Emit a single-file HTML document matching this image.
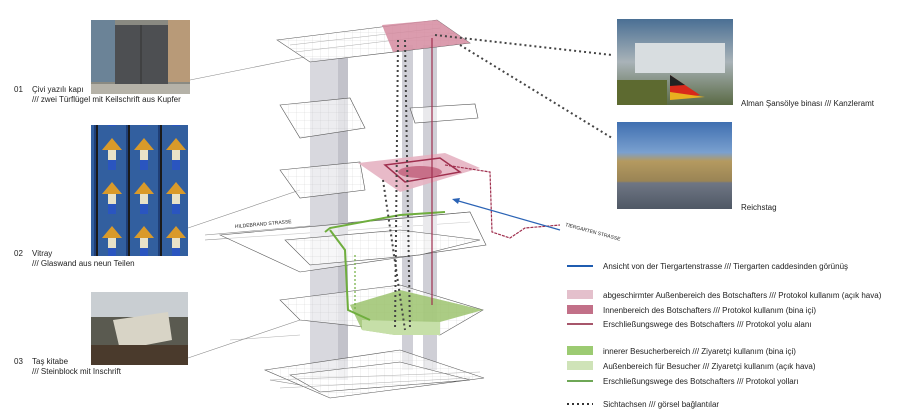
<!DOCTYPE html>
<html><head><meta charset="utf-8"><style>
html,body{margin:0;padding:0;background:#fff;width:900px;height:416px;overflow:hidden}
svg{display:block}
text{font-family:"Liberation Sans","Noto Sans CJK JP",sans-serif;fill:#222}
</style></head><body>
<svg width="900" height="416" viewBox="0 0 900 416" xmlns="http://www.w3.org/2000/svg">
<defs>
<linearGradient id="sky" x1="0" y1="0" x2="0" y2="1"><stop offset="0" stop-color="#4a6f94"/><stop offset="0.5" stop-color="#a9b3b8"/><stop offset="1" stop-color="#5a6a45"/></linearGradient>
<linearGradient id="sky2" x1="0" y1="0" x2="0" y2="1"><stop offset="0" stop-color="#3f6fb0"/><stop offset="0.35" stop-color="#7aa0cf"/><stop offset="0.45" stop-color="#b49a60"/><stop offset="0.68" stop-color="#9a8455"/><stop offset="0.7" stop-color="#6f7684"/><stop offset="1" stop-color="#4f5865"/></linearGradient>
<pattern id="glass" width="32" height="44" patternUnits="userSpaceOnUse"><rect width="32" height="44" fill="#1f3f78"/><rect x="2" y="0" width="28" height="44" fill="#3a6cb0" opacity="0.7"/><path d="M6,18 L16,6 L26,18 Z" fill="#d99a2a"/><rect x="12" y="18" width="8" height="10" fill="#e8e2c8"/><rect x="12" y="28" width="8" height="10" fill="#2a55c0"/><rect x="0" y="0" width="2" height="44" fill="#1a1a1a"/></pattern>
<pattern id="grid" width="8" height="8" patternUnits="userSpaceOnUse"><path d="M8,0 L0,0 0,8" fill="none" stroke="#bbb" stroke-width="0.4"/></pattern>
</defs>

<rect x="91" y="20" width="99" height="74" fill="#8a8a82"/>
<rect x="91" y="20" width="24" height="62" fill="#6b8397"/>
<rect x="168" y="20" width="22" height="62" fill="#b89a78"/>
<rect x="115" y="25" width="53" height="60" fill="#4d4f52"/>
<line x1="141" y1="25" x2="141" y2="85" stroke="#333"/>
<rect x="91" y="84" width="99" height="10" fill="#b5b2a8"/>
<rect x="91" y="125" width="97" height="131" fill="url(#glass)"/>
<rect x="91" y="292" width="97" height="73" fill="#5a5a50"/>
<rect x="91" y="292" width="97" height="25" fill="#c9ced2"/>
<polygon points="113,320 168,312 172,340 120,350" fill="#d8d4c6"/>
<rect x="91" y="345" width="97" height="20" fill="#4a3a2c"/>

<text font-size="8" x="14" y="92">01</text><text font-size="8" x="32" y="92">Çivi yazılı kapı</text>
<text font-size="8" x="32" y="102">/// zwei Türflügel mit Keilschrift aus Kupfer</text>
<text font-size="8" x="14" y="256">02</text><text font-size="8" x="32" y="256">Vitray</text>
<text font-size="8" x="32" y="266">/// Glaswand aus neun Teilen</text>
<text font-size="8" x="14" y="364">03</text><text font-size="8" x="32" y="364">Taş kitabe</text>
<text font-size="8" x="32" y="374">/// Steinblock mit Inschrift</text>

<g stroke="#888" stroke-width="0.6" fill="none">
<line x1="190" y1="80" x2="305" y2="57"/>
<line x1="188" y1="228" x2="300" y2="190"/>
<line x1="188" y1="358" x2="300" y2="320"/>
<line x1="205" y1="235" x2="470" y2="212"/>
<line x1="205" y1="240" x2="470" y2="222"/>
<line x1="270" y1="380" x2="300" y2="385"/>
</g>

<rect x="617" y="19" width="116" height="86" fill="url(#sky)"/>
<rect x="635" y="43" width="90" height="30" fill="#d8dde0"/>
<rect x="617" y="80" width="50" height="25" fill="#5d6a30"/>
<polygon points="670,75 700,95 670,100" fill="#d8291b"/>
<polygon points="670,75 685,85 670,86" fill="#222"/>
<polygon points="670,92 705,97 670,100" fill="#e8b020"/>
<rect x="617" y="122" width="115" height="87" fill="url(#sky2)"/>
<text font-size="8" x="741" y="106">Alman Şansölye binası /// Kanzleramt</text>
<text font-size="8" x="741" y="210">Reichstag</text>

<rect x="310" y="58" width="38" height="322" fill="#d4d4da" opacity="0.9"/>
<rect x="338" y="58" width="10" height="322" fill="#c2c2ca"/>
<rect x="402" y="45" width="11" height="325" fill="#cfcfd6"/>
<rect x="423" y="45" width="14" height="325" fill="#cfcfd6"/>

<g stroke="#555" stroke-width="0.6" fill="rgba(255,255,255,0.55)">
<polygon points="277,40 437,20 470,43 310,62"/>
<polygon points="280,105 350,98 365,128 300,138"/>
<polygon points="410,108 475,104 478,118 415,123"/>
<polygon points="280,170 360,162 365,190 300,198"/>
<polygon points="220,235 470,212 486,245 300,272"/>
<polygon points="285,240 400,230 480,240 420,255 310,265"/>
<polygon points="280,300 400,285 483,310 440,335 300,320"/>
<polygon points="265,370 400,350 484,378 330,398"/>
<polygon points="290,375 400,362 470,380 320,392"/>
</g>
<g fill="url(#grid)" opacity="0.8">
<polygon points="277,40 437,20 470,43 310,62"/>
<polygon points="280,105 350,98 365,128 300,138"/>
<polygon points="280,170 360,162 365,190 300,198"/>
<polygon points="285,240 400,230 480,240 420,255 310,265"/>
<polygon points="280,300 400,285 483,310 440,335 300,320"/>
<polygon points="265,370 400,350 484,378 330,398"/>
</g>
<g stroke="#999" stroke-width="0.4" fill="none">
<line x1="290" y1="45" x2="440" y2="28"/><line x1="295" y1="52" x2="455" y2="33"/>
<line x1="270" y1="380" x2="480" y2="372"/><line x1="280" y1="388" x2="470" y2="378"/>
<line x1="230" y1="340" x2="300" y2="335"/>
</g>

<polygon points="382,25 437,20 470,43 393,52" fill="#d58ba0" opacity="0.85"/>
<polygon points="358,163 445,153 480,168 400,192" fill="#e6b3c2" opacity="0.9"/>
<polygon points="385,165 440,158 460,172 405,182" fill="none" stroke="#a0304f" stroke-width="1.5"/>
<ellipse cx="420" cy="172" rx="22" ry="6" fill="#c76f88"/>
<polygon points="350,305 400,290 483,310 440,322 440,335 395,335 362,330" fill="#9cc36f" opacity="0.85"/>
<polygon points="362,320 440,322 440,335 395,335 362,330" fill="#c6dfa8"/>
<polyline points="325,232 330,228 400,215 445,212" fill="none" stroke="#6fae3e" stroke-width="2"/>
<polyline points="330,230 345,250 348,310 370,320" fill="none" stroke="#6fae3e" stroke-width="2"/>
<line x1="355" y1="255" x2="355" y2="310" stroke="#6fae3e" stroke-width="1.2" stroke-dasharray="2,2"/>

<line x1="432" y1="38" x2="432" y2="305" stroke="#a0304f" stroke-width="1.2"/>
<polyline points="445,165 490,172 492,232 510,238 525,228 560,225" fill="none" stroke="#a0304f" stroke-width="1.2" stroke-dasharray="3,1"/>

<line x1="455" y1="200" x2="560" y2="230" stroke="#2b63b5" stroke-width="1.2"/>
<polygon points="452,199 460,198 458,204" fill="#2b63b5"/>

<g stroke="#444" stroke-width="2" stroke-dasharray="2,3" fill="none">
<line x1="435" y1="35" x2="612" y2="55"/>
<line x1="460" y1="45" x2="612" y2="138"/>
<line x1="405" y1="40" x2="410" y2="330"/>
<line x1="398" y1="40" x2="395" y2="330"/>
<line x1="383" y1="180" x2="405" y2="330"/>
</g>

<text font-size="5" x="235" y="228" transform="rotate(-5 235 228)">HILDEBRAND STRASSE</text>
<text font-size="5" x="565" y="226" transform="rotate(15 565 226)">TIERGARTEN STRASSE</text>

<line x1="567" y1="266" x2="593" y2="266" stroke="#1f5cb0" stroke-width="2"/>
<text font-size="8" x="603" y="269">Ansicht von der Tiergartenstrasse /// Tiergarten caddesinden görünüş</text>
<rect x="567" y="290" width="26" height="9" fill="#e4c0cc"/>
<text font-size="8" x="603" y="298">abgeschirmter Außenbereich des Botschafters /// Protokol kullanım (açık hava)</text>
<rect x="567" y="305" width="26" height="9" fill="#c27088"/>
<text font-size="8" x="603" y="313">Innenbereich des Botschafters /// Protokol kullanım (bina içi)</text>
<line x1="567" y1="324" x2="593" y2="324" stroke="#8a1f3a" stroke-width="1.5"/>
<text font-size="8" x="603" y="327">Erschließungswege des Botschafters /// Protokol yolu alanı</text>
<rect x="567" y="346" width="26" height="9" fill="#9ccb72"/>
<text font-size="8" x="603" y="354">innerer Besucherbereich /// Ziyaretçi kullanım (bina içi)</text>
<rect x="567" y="361" width="26" height="9" fill="#cfe3b8"/>
<text font-size="8" x="603" y="369">Außenbereich für Besucher /// Ziyaretçi kullanım (açık hava)</text>
<line x1="567" y1="381" x2="593" y2="381" stroke="#3f8a1f" stroke-width="1.5"/>
<text font-size="8" x="603" y="384">Erschließungswege des Botschafters /// Protokol yolları</text>
<line x1="567" y1="404" x2="593" y2="404" stroke="#333" stroke-width="2" stroke-dasharray="2,3"/>
<text font-size="8" x="603" y="407">Sichtachsen /// görsel bağlantılar</text>
</svg>
</body></html>
